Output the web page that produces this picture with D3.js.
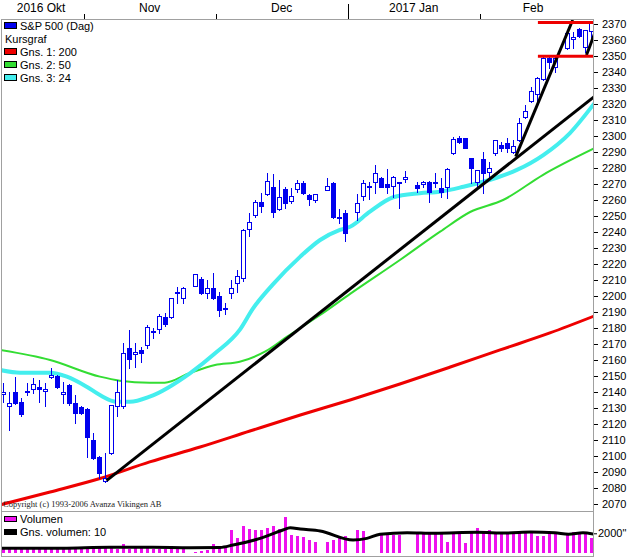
<!DOCTYPE html>
<html>
<head>
<meta charset="utf-8">
<script src="https://cdn.jsdelivr.net/npm/d3@7"></script>
<style>
body { margin: 0; background: #fff; }
svg { display: block; font-family: "Liberation Sans", Arial, sans-serif; font-size: 11px; }
</style>
</head>
<body>
<svg id="chart" width="629" height="558"></svg>
<script>
// one entry per weekday slot from 2016-10-12, null = market closed
// [open, high, low, close]
var ohlc = [
  [2139,2145.6,2133.8,2140],[2131.3,2140,2116.3,2133.1],[2140,2149.4,2132.8,2133.1],[2133.8,2136.3,2125,2126.3],
  [2140,2145.6,2138.1,2140.6],[2141.9,2148.8,2139.4,2145],[2143.1,2147.5,2133.8,2141.9],[2140.6,2145.6,2131.3,2141.9],
  [2149.4,2155,2148.8,2150.6],[2150,2150.5,2142.5,2143.1],[2138.8,2146.3,2133.1,2140],[2144.4,2145,2132,2133.1],
  [2133.1,2138.1,2120.6,2126.9],[2130.6,2131,2126,2126.9],[2129.4,2130,2099.4,2111.9],[2110,2114.4,2098,2098.8],
  [2099.4,2100,2086.3,2089.4],[2084.4,2101.9,2084,2086.3],[2101.9,2132,2101,2131.9],[2131.3,2147.5,2125,2140],
  [2131.3,2170.6,2130,2164.4],[2167.5,2178.8,2155,2160.6],[2163.8,2170.6,2155.6,2165],[2166.3,2168,2159,2164.4],
  [2169.4,2181.9,2167.5,2180.8],[2178.1,2180,2173.8,2177.5],[2179.2,2188.8,2176.9,2187.7],[2187.1,2189.2,2181.3,2182.5],
  [2187.1,2199,2186,2198.6],[2202.7,2205.4,2195.4,2202.3],[2198.9,2205.4,2195.4,2204.8],null,
  [2206.4,2214,2206,2213.6],[2210.6,2212.1,2201,2201.7],[2201.7,2210,2198.6,2204.8],[2204.8,2214.2,2198,2198.9],
  [2200.2,2202.7,2187.7,2191.3],[2192.5,2195.4,2188.8,2192.2],[2201.7,2210,2199,2204.8],[2207.9,2216.3,2202.7,2212.5],
  [2211.1,2242,2209.4,2241.3],[2241.7,2251.7,2237.7,2246.1],[2250.6,2260,2249.6,2258.9],[2258.6,2264.2,2252.7,2256.4],
  [2263.6,2277.1,2263,2271.9],[2267.9,2276.3,2249.2,2252.7],[2254.2,2272.5,2254,2261.7],[2266.7,2268.3,2254.8,2257.9],
  [2259.6,2267.3,2257.9,2262.5],[2266.7,2272.5,2265.2,2270.4],[2270.8,2271.9,2264,2264.6],[2262.9,2263.5,2256.9,2260.6],
  [2260,2264,2258.9,2263.8],null,[2266.3,2273.6,2266,2268.8],[2270.4,2271.4,2249,2249.6],
  [2249.2,2254.2,2245.4,2249.4],[2251.7,2253.8,2234.6,2239.2],null,[2252.3,2263.8,2247.5,2257.9],
  [2262.5,2272.5,2260,2270.4],[2268.5,2271.4,2260.8,2268.8],[2271.4,2281.9,2264.6,2277.1],[2273.9,2274.2,2268,2268.3],
  [2269.8,2279.2,2264.6,2268.3],[2268.9,2275,2262.1,2274.6],[2271.1,2271.5,2254.8,2270.5],[2272.9,2278.3,2271.4,2274.2],
  null,[2269.4,2271.4,2265.2,2267.7],[2269.8,2272,2268,2271.4],[2271.4,2271.9,2258.9,2265.2],
  [2270.5,2276.7,2268.3,2271.1],[2267.7,2273.6,2262.1,2265.2],[2268.3,2279.8,2261.1,2279.4],[2289.2,2299.6,2289,2298.1],
  [2298.6,2300.2,2295.4,2296.1],[2298.6,2299,2292.3,2292.7],[2286.1,2286.5,2270.4,2280.2],[2271.4,2279,2267.3,2278.8],
  [2285.6,2290.2,2264.4,2276.7],[2277.3,2283.9,2273.6,2280.2],[2289.2,2297.8,2288.1,2297.5],[2294.4,2296,2290.6,2292.3],
  [2295.8,2298.6,2290.2,2292.7],[2289.8,2297.5,2289.6,2293.9],[2297.5,2311.1,2297,2307.9],[2312.1,2319.4,2311.1,2315.6],
  [2321.9,2330.8,2321.4,2328.1],[2326.1,2337.1,2321.4,2336.1],[2335.6,2349.6,2335,2348.9],[2348.9,2349.6,2342.3,2346.4],
  [2343.3,2349.6,2340.2,2348.6],null,[2354.8,2366.3,2354.5,2364.2],[2360.6,2365.2,2354.8,2362.1],
  [2366.9,2367.7,2362.1,2362.7],[2355.8,2366.5,2352.7,2366.3],[2365.6,2371,2361.3,2370.4]
];

var volume = [
  330,350,340,330,340,350,330,340,350,330,340,350,340,360,
  470,420,500,450,520,430,850,420,600,470,450,420,430,420,400,430,340,null,
  100,130,300,850,620,690,
  2340,1480,2780,2440,2340,2340,2510,2780,2440,3710,1820,1750,1650,1310,1070,null,
  1070,1310,1480,1750,null,2340,2230,null,null,1890,1990,1820,1820,null,null,
  2170,2100,2100,1990,2170,1130,2100,2170,960,1990,2580,1990,2340,2170,2100,2100,
  2100,2100,2230,2230,1750,1750,2100,2170,null,1820,2100,2170,1890,1550
];

// moving averages: [slot, value]
var ma200 = [[-0.5,2069.4],[7.9,2077.5],[16.2,2085.9],[24.5,2096.3],[32.9,2105.6],[41.2,2115.6],[49.6,2125.6],
  [57.9,2135],[66.2,2145],[74.6,2155.6],[82.9,2166.3],[91.2,2176.9],[98.6,2187.5]];
var ma50 = [[-0.5,2166.3],[7.9,2160],[16.2,2149.6],[19.5,2147.1],[24.5,2145.8],[27,2145.8],[31.2,2151.9],
  [35.4,2156.9],[39.5,2158.9],[43.7,2165.2],[47.4,2174.6],[52.9,2188.1],[57.9,2201.3],[66.2,2222.5],
  [72.9,2240.2],[77.9,2252.5],[83.4,2260],[90,2275.6],[98.6,2292.3]];
var ma24 = [[-0.5,2153.8],[2.9,2152.1],[7.9,2152.1],[10.7,2149.6],[14,2143.3],[16.2,2138.1],[19,2133.9],
  [21.2,2133.9],[24.5,2137.1],[31.2,2151.7],[35.4,2164.2],[39.5,2178.8],[41.7,2192.1],[45,2207.1],
  [49.6,2224.6],[52.9,2235],[56.2,2241.3],[57.9,2243.3],[61.2,2252.7],[65.1,2261.7],[69.5,2264.2],[72.9,2265.2],
  [76.8,2268.3],[82.3,2273.9],[85.7,2278.8],[90.1,2288.1],[94.5,2301.7],[98.6,2320.4]];
var volMa10 = [[-0.5,450],[10,470],[17.9,560],[25,560],[31.2,520],[36.2,540],[38.4,790],[42.9,1480],
  [46.7,2340],[47.9,2580],[49.6,2440],[52.9,2240],[58.4,1310],[60.7,1480],[62.9,1900],[67.4,2060],
  [72,2000],[79,2100],[84,2030],[88,2130],[92,2060],[94.3,1900],[96.7,2060],[98.6,1900]];

// drawn trend lines [[slot, price], [slot, price]] and support/resistance levels
var trendLines = [[[17.3,2084.6],[98.6,2324.6]], [[85.5,2287.1],[95,2372.5]], [[97.3,2350.6],[98.6,2363.6]]];
var levels = [[89.2,98.6,2371], [89.2,98.6,2349.8]];

var priceTicks = [2070,2080,2090,2100,2110,2120,2130,2140,2150,2160,2170,2180,2190,2200,2210,2220,
  2230,2240,2250,2260,2270,2280,2290,2300,2310,2320,2330,2340,2350,2360,2370];
var volTicks = [2000];
var monthTicks = [13.5, 35.5, 57.5, 79.5];
var yearTicks = [57.5];
var monthLabels = ["2016 Okt", "Nov", "Dec", "2017 Jan", "Feb"];
var monthLabelSlots = [6.4, 24.5, 46.5, 68.5, 88.4];

var svg = d3.select("svg#chart");
var x = d3.scaleLinear().domain([0, 98]).range([2.7, 590.7]);
var y = d3.scaleLinear().domain([2070, 2370]).range([504, 24]);
var yv = d3.scaleLinear().domain([0, 2000]).range([552.7, 533.3]);
var blue = "#0000ee";

svg.append("defs").append("clipPath").attr("id", "plot")
  .append("rect").attr("x", 2).attr("y", 20).attr("width", 591).attr("height", 491);
svg.append("defs").append("clipPath").attr("id", "vplot")
  .append("rect").attr("x", 2).attr("y", 512).attr("width", 591).attr("height", 44);

// frames
svg.append("rect").attr("x", 1.5).attr("y", 19.5).attr("width", 592).attr("height", 492)
  .attr("fill", "none").attr("stroke", "#a0a0a0");
svg.append("rect").attr("x", 1.5).attr("y", 511.5).attr("width", 592).attr("height", 45)
  .attr("fill", "none").attr("stroke", "#a0a0a0");

// top date axis
svg.selectAll(".mtick").data(monthTicks).enter().append("line")
  .attr("x1", function(d) { return Math.round(x(d)) + 0.5; })
  .attr("x2", function(d) { return Math.round(x(d)) + 0.5; })
  .attr("y1", function(d) { return yearTicks.indexOf(d) >= 0 ? 4 : 14; })
  .attr("y2", 19)
  .attr("stroke", "#000");
svg.selectAll(".mlabel").data(monthLabels).enter().append("text")
  .attr("x", function(d, i) { return x(monthLabelSlots[i]); })
  .attr("y", 12)
  .attr("text-anchor", "middle")
  .attr("font-size", 12)
  .text(function(d) { return d; });

var plot = svg.append("g").attr("clip-path", "url(#plot)");
var line = d3.line().x(function(d) { return x(d[0]); }).y(function(d) { return y(d[1]); }).curve(d3.curveMonotoneX);

plot.append("path").datum(ma200).attr("d", line).attr("fill", "none").attr("stroke", "#ee0000").attr("stroke-width", 3);
plot.append("path").datum(ma50).attr("d", line).attr("fill", "none").attr("stroke", "#33dd33").attr("stroke-width", 2);
plot.append("path").datum(ma24).attr("d", line).attr("fill", "none").attr("stroke", "#44eeee").attr("stroke-width", 4);

// candles
var candles = plot.selectAll(".candle")
  .data(ohlc.map(function(d, i) { return {i: i, v: d}; }).filter(function(d) { return d.v; }))
  .enter().append("g").attr("shape-rendering", "crispEdges");
candles.append("line")
  .attr("x1", function(d) { return Math.round(x(d.i)) + 0.5; })
  .attr("x2", function(d) { return Math.round(x(d.i)) + 0.5; })
  .attr("y1", function(d) { return Math.round(y(d.v[1])); })
  .attr("y2", function(d) { return Math.round(y(d.v[2])) + 1; })
  .attr("stroke", blue);
candles.append("rect")
  .attr("x", function(d) { return Math.round(x(d.i)) - 1.5; })
  .attr("y", function(d) { return Math.round(y(Math.max(d.v[0], d.v[3]))) + 0.5; })
  .attr("width", 4)
  .attr("height", function(d) { return Math.max(1, Math.round(y(Math.min(d.v[0], d.v[3]))) - Math.round(y(Math.max(d.v[0], d.v[3])))); })
  .attr("fill", function(d) { return d.v[3] >= d.v[0] ? "#fff" : blue; })
  .attr("stroke", blue);

// trend lines and levels
plot.selectAll(".trend").data(trendLines).enter().append("line")
  .attr("x1", function(d) { return x(d[0][0]); }).attr("y1", function(d) { return y(d[0][1]); })
  .attr("x2", function(d) { return x(d[1][0]); }).attr("y2", function(d) { return y(d[1][1]); })
  .attr("stroke", "#000").attr("stroke-width", 3);
plot.selectAll(".level").data(levels).enter().append("line")
  .attr("x1", function(d) { return x(d[0]); }).attr("x2", function(d) { return x(d[1]); })
  .attr("y1", function(d) { return y(d[2]); }).attr("y2", function(d) { return y(d[2]); })
  .attr("stroke", "#ee0000").attr("stroke-width", 3);

// price axis on the right
var yAxis = svg.append("g").attr("transform", "translate(594,0)")
  .call(d3.axisRight(y).tickValues(priceTicks).tickSize(4).tickPadding(4).tickFormat(d3.format("d")));
yAxis.select(".domain").remove();
yAxis.attr("font-family", null).attr("font-size", 11);
yAxis.selectAll("text").attr("fill", "#000");

// legend
var legend = [
  {label: "S&P 500 (Dag)", color: blue},
  {label: "Kursgraf", color: null},
  {label: "Gns. 1: 200", color: "#ee0000"},
  {label: "Gns. 2: 50", color: "#33dd33"},
  {label: "Gns. 3: 24", color: "#44eeee"}
];
var lg = svg.selectAll(".lg").data(legend).enter().append("g")
  .attr("transform", function(d, i) { return "translate(0," + (30 + i * 13) + ")"; });
lg.filter(function(d) { return d.color; }).append("rect")
  .attr("x", 4.5).attr("y", -7.5).attr("width", 12).attr("height", 6)
  .attr("fill", function(d) { return d.color; }).attr("stroke", "#000");
lg.append("text")
  .attr("x", function(d) { return d.color ? 20 : 5; })
  .text(function(d) { return d.label; });

svg.append("text").attr("x", 3).attr("y", 507)
  .attr("font-family", "'Liberation Serif', 'Times New Roman', serif").attr("font-size", 8.5)
  .attr("fill", "#222")
  .text("Copyright (c) 1993-2006 Avanza Vikingen AB");

// volume panel
var vplot = svg.append("g").attr("clip-path", "url(#vplot)");
vplot.selectAll(".vbar")
  .data(volume.map(function(d, i) { return {i: i, v: d}; }).filter(function(d) { return d.v !== null; }))
  .enter().append("rect")
  .attr("shape-rendering", "crispEdges")
  .attr("x", function(d) { return Math.round(x(d.i)) - 1; })
  .attr("y", function(d) { return yv(d.v); })
  .attr("width", 3)
  .attr("height", function(d) { return yv(0) - yv(d.v); })
  .attr("fill", "#ee11ee");
vplot.append("path").datum(volMa10)
  .attr("d", d3.line().x(function(d) { return x(d[0]); }).y(function(d) { return yv(d[1]); }).curve(d3.curveMonotoneX))
  .attr("fill", "none").attr("stroke", "#000").attr("stroke-width", 3);

var vAxis = svg.append("g").attr("transform", "translate(594,0)")
  .call(d3.axisRight(yv).tickValues(volTicks).tickSize(3).tickPadding(1).tickFormat(function(d) { return d + "\""; }));
vAxis.select(".domain").remove();
vAxis.attr("font-family", null).attr("font-size", 11);
vAxis.selectAll("text").attr("fill", "#000");

var vlegend = [{label: "Volumen", color: "#ee11ee"}, {label: "Gns. volumen: 10", color: "#000"}];
var vlg = svg.selectAll(".vlg").data(vlegend).enter().append("g")
  .attr("transform", function(d, i) { return "translate(0," + (523 + i * 13) + ")"; });
vlg.append("rect").attr("x", 4.5).attr("y", -6.5).attr("width", 12).attr("height", 5)
  .attr("fill", function(d) { return d.color; }).attr("stroke", "#000");
vlg.append("text").attr("x", 20).text(function(d) { return d.label; });
</script>
</body>
</html>
